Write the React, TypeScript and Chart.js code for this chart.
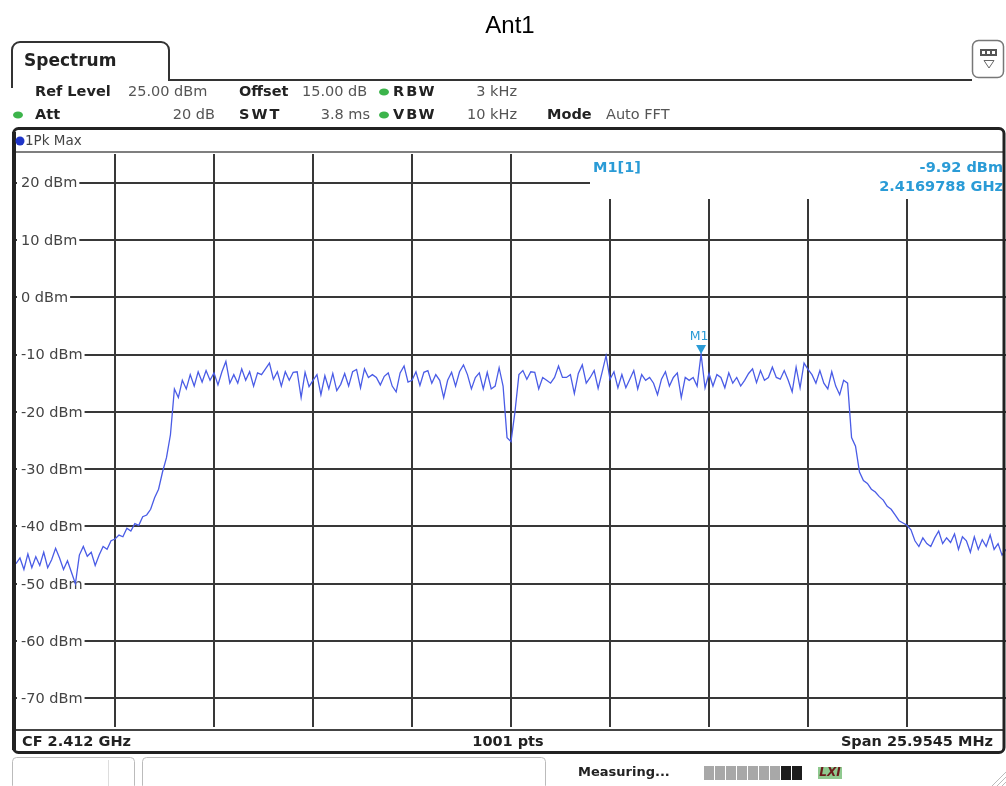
import React, { useEffect, useRef } from "react";
import { Chart, registerables } from "chart.js";

Chart.register(...registerables);

// ---------------- data ----------------
const CHART_TITLE = "Ant1";
const TAB_LABEL = "Spectrum";
const TRACE_LABEL = "1Pk Max";
const SWEEP_POINTS = 1001;
const TRACE_STEP = 4; // one value every 4 sweep points (index 0,4,...,1000)

// 1Pk Max trace level in dBm
const TRACE_DBM: number[] = [
  -46.5, -45.5, -47.5, -44.8, -47.2, -45.3, -46.8, -44.5, -47.2, -45.8,
  -43.8, -45.5, -47.5, -46, -48, -50, -45, -43.5, -45.2, -44.5,
  -46.8, -45, -43.5, -44, -42.5,
  -42.2, -41.5, -41.8, -40.3, -40.8, -39.5, -39.8, -38.3, -38, -37,
  -35, -33.5, -30.5, -28, -24, -16, -17.5, -14.5, -16, -13.5,
  -15.5, -13, -14.8, -12.8, -14.5, -13.2, -15.3, -13, -11.2, -15,
  -13.5, -15, -12.5, -14.5, -13, -15.5, -13.2, -13.5,
  -12.5, -11.5, -14.3, -13, -15.5, -13, -14.5, -13.1, -13, -17.5,
  -13.1, -15.6, -14.5, -13.5, -17, -13.7, -16, -13.3, -16.3, -15.2,
  -13.3, -15.5, -13, -12.6, -15.8, -12.5, -14, -13.5, -14, -15.3,
  -13.8, -13.2, -15.5, -16.5, -13.2, -12, -14.8, -14.5, -13, -15.4,
  -13.1, -12.8, -15, -13.5, -14.5, -17.5, -14.5, -13.1, -15.5, -13,
  -11.8, -13.5, -16, -14, -13.2, -16, -13.1, -16, -15.5, -12.3,
  -15.5,
  -24.5, -25.2, -20,
  -13.5, -12.8, -14.3, -13, -13.1, -16, -14, -14.5, -15, -14,
  -12, -14, -14, -13.5, -16.8, -13.3, -11.8, -15, -14, -12.8,
  -15.9, -13.1, -10.2, -14.3, -13, -15.8, -13.5, -15.8, -14.3, -12.8,
  -16, -13.5, -14.5, -14, -15, -17, -14.3, -13, -15.5, -14,
  -13.2, -17.5, -14, -14.5, -14, -15.5, -9.92, -15.8, -13.3, -15.5,
  -13.5, -14, -15.8, -13.2, -15, -14, -15.5, -14.5, -13.3, -12.5,
  -14.9, -12.8, -14.5, -14, -12.2, -14, -14.3, -12.8, -14.5, -16.5,
  -12.2, -15.8, -11.5, -12.6, -13.5, -15, -12.8, -15, -16, -13,
  -15.5, -17, -14.5, -15, -24.5, -26, -30.5, -32, -32.5, -33.5,
  -34, -34.8, -35.4, -36.5, -37, -38, -39, -39.4, -39.8, -40.6,
  -42.5, -43.5, -42, -43, -43.5, -42, -40.8, -43, -42, -42.8,
  -41.3, -44, -41.8, -42.5, -44.5, -41.8, -44, -42.3, -43.5, -41.5,
  -44, -43, -45, -44,
];

const X_GRID_INDEX = [100, 200, 300, 400, 500, 600, 700, 800, 900];
const Y_TICKS = [20, 10, 0, -10, -20, -30, -40, -50, -60, -70];
const Y_TICK_LABELS = Y_TICKS.map((v) => `${v} dBm`);
const Y_MIN = -75;
const Y_MAX = 25;

const MARKER_NAME = "M1";
const MARKER_TAG = "M1[1]";
const MARKER_INDEX = 692;
const MARKER_DBM = -9.92;
const MARKER_LEVEL_TEXT = "-9.92 dBm";
const MARKER_FREQ_TEXT = "2.4169788 GHz";

const FOOTER_LEFT = "CF 2.412 GHz";
const FOOTER_MID = "1001 pts";
const FOOTER_RIGHT = "Span 25.9545 MHz";
const STATUS_TEXT = "Measuring...";

const HDR_REF_LABEL = "Ref Level";
const HDR_REF_VALUE = "25.00 dBm";
const HDR_OFFSET_LABEL = "Offset";
const HDR_OFFSET_VALUE = "15.00 dB";
const HDR_RBW_LABEL = "RBW";
const HDR_RBW_VALUE = "3 kHz";
const HDR_ATT_LABEL = "Att";
const HDR_ATT_VALUE = "20 dB";
const HDR_SWT_LABEL = "SWT";
const HDR_SWT_VALUE = "3.8 ms";
const HDR_VBW_LABEL = "VBW";
const HDR_VBW_VALUE = "10 kHz";
const HDR_MODE_LABEL = "Mode";
const HDR_MODE_VALUE = "Auto FFT";

// ---------------- drawing ----------------
const FONT = '"DejaVu Sans", Verdana, sans-serif';
const CYAN = "#2a9bd6";
const GRID = "#383838";

function txt(ctx: CanvasRenderingContext2D, s: string, x: number, y: number, font: string, color: string, align: CanvasTextAlign = "left", spacing = "0px") {
  ctx.font = font;
  ctx.fillStyle = color;
  ctx.textAlign = align;
  ctx.textBaseline = "middle";
  (ctx as any).letterSpacing = spacing;
  ctx.fillText(s, x, y);
  (ctx as any).letterSpacing = "0px";
}

function greenDot(ctx: CanvasRenderingContext2D, x: number, y: number) {
  ctx.fillStyle = "#3cb44b";
  ctx.beginPath();
  ctx.ellipse(x, y, 5, 3.5, 0, 0, Math.PI * 2);
  ctx.fill();
}

const chromePlugin = {
  id: "chrome",
  beforeDatasetsDraw(chart: any) {
    const { ctx, chartArea: ca, scales } = chart;
    const ys = scales.y;
    ctx.save();
    // marker info box hides grid
    ctx.fillStyle = "#fff";
    ctx.fillRect(590, ca.top - 1, ca.right - 590, 200 - ca.top);
    // level labels on the grid
    ctx.font = `14.5px ${FONT}`;
    Y_TICKS.forEach((v, i) => {
      const py = ys.getPixelForValue(v);
      const label = Y_TICK_LABELS[i];
      ctx.font = `14.5px ${FONT}`;
      const w = ctx.measureText(label).width;
      ctx.fillStyle = "#fff";
      ctx.fillRect(ca.left + 1, py - 8, w + 6, 16);
      txt(ctx, label, 21, py + 1, `14.5px ${FONT}`, "#444");
    });
    // marker info
    txt(ctx, MARKER_TAG, 593, 168, `bold 14.5px ${FONT}`, CYAN);
    txt(ctx, MARKER_LEVEL_TEXT, 1003, 168, `bold 14.5px ${FONT}`, CYAN, "right");
    txt(ctx, MARKER_FREQ_TEXT, 1003, 187, `bold 14.5px ${FONT}`, CYAN, "right");
    ctx.restore();
  },
  afterDatasetsDraw(chart: any) {
    const { ctx, scales } = chart;
    const px = scales.x.getPixelForValue(MARKER_INDEX);
    const py = scales.y.getPixelForValue(MARKER_DBM);
    ctx.save();
    ctx.fillStyle = CYAN;
    ctx.beginPath();
    ctx.moveTo(px - 5, py - 9);
    ctx.lineTo(px + 5, py - 9);
    ctx.lineTo(px, py);
    ctx.closePath();
    ctx.fill();
    txt(ctx, MARKER_NAME, px - 2, py - 17, `12.5px ${FONT}`, CYAN, "center");
    ctx.restore();
  },
  afterDraw(chart: any) {
    const { ctx } = chart;
    ctx.save();
    // title
    txt(ctx, CHART_TITLE, 510, 26, '24px "Liberation Sans", Arial, sans-serif', "#000", "center");

    // tab outline
    ctx.strokeStyle = "#333";
    ctx.lineWidth = 2;
    ctx.beginPath();
    ctx.moveTo(12, 88);
    ctx.lineTo(12, 50);
    ctx.arcTo(12, 42, 20, 42, 8);
    ctx.lineTo(161, 42);
    ctx.arcTo(169, 42, 169, 50, 8);
    ctx.lineTo(169, 80);
    ctx.lineTo(972, 80);
    ctx.stroke();
    txt(ctx, TAB_LABEL, 24, 62, `bold 17px ${FONT}`, "#222");

    // icon box
    ctx.strokeStyle = "#777";
    ctx.lineWidth = 1.5;
    ctx.beginPath();
    ctx.roundRect(972.5, 40.5, 31, 37, 6);
    ctx.stroke();
    ctx.fillStyle = "#555";
    ctx.fillRect(980, 49, 17, 7);
    ctx.fillStyle = "#fff";
    for (let i = 0; i < 3; i++) ctx.fillRect(982 + i * 5, 51, 3, 3);
    ctx.strokeStyle = "#666";
    ctx.lineWidth = 1;
    ctx.beginPath();
    ctx.moveTo(984, 60.5);
    ctx.lineTo(994, 60.5);
    ctx.lineTo(989, 68);
    ctx.closePath();
    ctx.stroke();

    // header rows
    const b = `bold 14.5px ${FONT}`;
    const n = `14.5px ${FONT}`;
    const r1 = 92;
    const r2 = 115;
    txt(ctx, HDR_REF_LABEL, 35, r1, b, "#222");
    txt(ctx, HDR_REF_VALUE, 128, r1, n, "#555");
    txt(ctx, HDR_OFFSET_LABEL, 239, r1, b, "#222");
    txt(ctx, HDR_OFFSET_VALUE, 302, r1, n, "#555");
    greenDot(ctx, 384, r1);
    txt(ctx, HDR_RBW_LABEL, 393, r1, b, "#222", "left", "2px");
    txt(ctx, HDR_RBW_VALUE, 517, r1, n, "#555", "right");
    greenDot(ctx, 18, r2);
    txt(ctx, HDR_ATT_LABEL, 35, r2, b, "#222");
    txt(ctx, HDR_ATT_VALUE, 215, r2, n, "#555", "right");
    txt(ctx, HDR_SWT_LABEL, 239, r2, b, "#222", "left", "2px");
    txt(ctx, HDR_SWT_VALUE, 370, r2, n, "#555", "right");
    greenDot(ctx, 384, r2);
    txt(ctx, HDR_VBW_LABEL, 393, r2, b, "#222", "left", "2px");
    txt(ctx, HDR_VBW_VALUE, 517, r2, n, "#555", "right");
    txt(ctx, HDR_MODE_LABEL, 547, r2, b, "#222");
    txt(ctx, HDR_MODE_VALUE, 606, r2, n, "#555");

    // panel frame
    ctx.strokeStyle = "#555";
    ctx.lineWidth = 1.5;
    ctx.beginPath();
    ctx.moveTo(14, 152);
    ctx.lineTo(1004, 152);
    ctx.stroke();
    ctx.strokeStyle = "#444";
    ctx.lineWidth = 2;
    ctx.beginPath();
    ctx.moveTo(14, 730);
    ctx.lineTo(1004, 730);
    ctx.stroke();
    ctx.strokeStyle = "#222";
    ctx.lineWidth = 3;
    ctx.beginPath();
    ctx.roundRect(13.5, 128.5, 990.5, 624, 5);
    ctx.stroke();
    ctx.lineWidth = 4;
    ctx.beginPath();
    ctx.moveTo(14, 132);
    ctx.lineTo(14, 750);
    ctx.stroke();

    // trace label row
    ctx.fillStyle = "#1f35c8";
    ctx.beginPath();
    ctx.arc(20, 141, 4.5, 0, Math.PI * 2);
    ctx.fill();
    txt(ctx, TRACE_LABEL, 25, 141, `13.5px ${FONT}`, "#444");

    // footer
    txt(ctx, FOOTER_LEFT, 22, 742, b, "#222");
    txt(ctx, FOOTER_MID, 508, 742, b, "#222", "center");
    txt(ctx, FOOTER_RIGHT, 993, 742, b, "#222", "right");

    // status bar
    ctx.strokeStyle = "#bbb";
    ctx.lineWidth = 1;
    ctx.beginPath();
    ctx.roundRect(12.5, 757.5, 122, 32, 4);
    ctx.stroke();
    ctx.beginPath();
    ctx.roundRect(142.5, 757.5, 403, 32, 4);
    ctx.stroke();
    ctx.strokeStyle = "#ddd";
    ctx.beginPath();
    ctx.moveTo(108.5, 760);
    ctx.lineTo(108.5, 786);
    ctx.stroke();
    txt(ctx, STATUS_TEXT, 578, 773, `bold 13px ${FONT}`, "#222");
    for (let i = 0; i < 9; i++) {
      ctx.fillStyle = i < 7 ? "#a8a8a8" : "#1c1c1c";
      ctx.fillRect(704 + i * 11, 766, 10, 14);
    }
    ctx.fillStyle = "#8fc98f";
    ctx.fillRect(818, 767, 24, 12);
    txt(ctx, "LXI", 830, 773, `italic bold 12px ${FONT}`, "#6b1c1c", "center");
    ctx.strokeStyle = "#bbb";
    for (let i = 0; i < 3; i++) {
      ctx.beginPath();
      ctx.moveTo(992 + i * 5, 786);
      ctx.lineTo(1006, 772 + i * 5);
      ctx.stroke();
    }
    ctx.restore();
  },
};

export default function App() {
  const ref = useRef<HTMLCanvasElement>(null);
  useEffect(() => {
    document.body.style.margin = "0";
    const canvas = ref.current;
    if (!canvas) return;
    const chart = new Chart(canvas, {
      type: "line",
      data: {
        datasets: [
          {
            label: TRACE_LABEL,
            data: TRACE_DBM.map((v, i) => ({ x: i * TRACE_STEP, y: v })),
            borderColor: "#4a5ce6",
            borderWidth: 1.3,
            pointRadius: 0,
            tension: 0,
            fill: false,
          },
        ],
      },
      options: {
        responsive: false,
        animation: false,
        events: [],
        layout: { padding: { left: 16, top: 154, right: 0, bottom: 59 } },
        plugins: {
          legend: { display: false },
          tooltip: { enabled: false },
          title: { display: false },
        },
        scales: {
          x: {
            type: "linear",
            min: 0,
            max: SWEEP_POINTS - 1,
            ticks: { display: false },
            grid: { color: GRID, lineWidth: 2, drawTicks: false },
            border: { display: false },
            afterBuildTicks: (axis: any) => {
              axis.ticks = X_GRID_INDEX.map((v) => ({ value: v }));
            },
          },
          y: {
            type: "linear",
            min: Y_MIN,
            max: Y_MAX,
            ticks: { display: false },
            grid: { color: GRID, lineWidth: 2, drawTicks: false },
            border: { display: false },
            afterBuildTicks: (axis: any) => {
              axis.ticks = Y_TICKS.map((v) => ({ value: v }));
            },
          },
        },
      },
      plugins: [chromePlugin],
    } as any);
    return () => chart.destroy();
  }, []);
  return (
    <div style={{ position: "absolute", left: 0, top: 0, width: 1006, height: 786, background: "#fff" }}>
      <canvas ref={ref} width={1006} height={786} style={{ display: "block" }} />
    </div>
  );
}
